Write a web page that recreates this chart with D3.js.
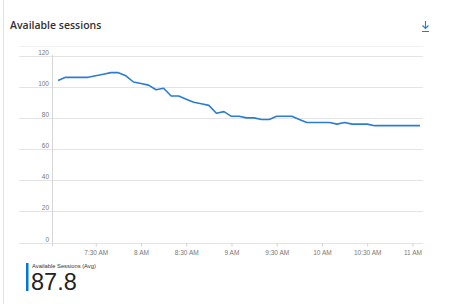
<!DOCTYPE html>
<html>
<head>
<meta charset="utf-8">
<script src="https://cdn.jsdelivr.net/npm/d3@7"></script>
<style>
  body { margin: 0; background: #fff; }
  svg { display: block; font-family: "Liberation Sans", Arial, sans-serif; }
</style>
</head>
<body>
<div id="chart"></div>
<script>
// Available sessions, sampled every 5 minutes from 7:05 AM to 11:05 AM
var startTime = "07:05";
var stepMinutes = 5;
var sessions = [104, 106, 106, 106, 106, 107, 108, 109, 109, 107, 103, 102, 101, 98, 99,
    94, 94, 92, 90, 89, 88, 83, 84, 81, 81, 80, 80, 79, 79, 81, 81, 81, 79, 77, 77,
    77, 77, 76, 77, 76, 76, 76, 75, 75, 75, 75, 75, 75, 75];
var yTicks = [0, 20, 40, 60, 80, 100, 120];
var xTicks = ["07:30", "08:00", "08:30", "09:00", "09:30", "10:00", "10:30", "11:00"];
var xDomain = ["07:01", "11:07"];

var width = 449;
var height = 304;

var parse = d3.timeParse("%H:%M");
var t0 = parse(startTime);
var data = sessions.map(function (v, i) {
    return { t: d3.timeMinute.offset(t0, i * stepMinutes), v: v };
});

var svg = d3.select("#chart")
    .append("svg")
    .attr("width", width)
    .attr("height", height);

// left border of the tile
svg.append("line")
    .attr("x1", 3.5).attr("x2", 3.5)
    .attr("y1", 0).attr("y2", height)
    .style("stroke", "#e3e3e3");

// title
svg.append("text")
    .attr("x", 10)
    .attr("y", 29)
    .style("font-family", "'Open Sans', sans-serif")
    .style("font-size", "10.5px")
    .style("font-weight", 600)
    .style("fill", "#323130")
    .text("Available sessions");

// download icon
var icon = svg.append("g")
    .attr("transform", "translate(425,21)");
icon.append("path")
    .attr("d", "M0.5,0 V7.5 M-2.5,4.5 L0.5,7.5 L3.5,4.5 M-3,10.5 H4")
    .style("fill", "none")
    .style("stroke", "#1a7fd6")
    .style("stroke-width", 1.1);

var x = d3.scaleTime()
    .domain(xDomain.map(parse))
    .range([52, 423]);

var y = d3.scaleLinear()
    .domain([0, 120])
    .range([242.6, 55.5]);

// faint frame line above the plot
svg.append("line")
    .attr("x1", 19).attr("x2", 423)
    .attr("y1", 46.5).attr("y2", 46.5)
    .style("stroke", "#f1f1f1");

// horizontal grid
svg.selectAll(".grid")
    .data(yTicks)
    .enter()
    .append("line")
    .attr("class", "grid")
    .attr("x1", 19).attr("x2", 423)
    .attr("y1", function (d) { return Math.round(y(d)) + 0.5; })
    .attr("y2", function (d) { return Math.round(y(d)) + 0.5; })
    .style("stroke", "#e4e4e4");

// y labels sit above their grid line
svg.selectAll(".ylab")
    .data(yTicks)
    .enter()
    .append("text")
    .attr("class", "ylab")
    .attr("x", 49)
    .attr("y", function (d) { return Math.round(y(d)) - 1.5; })
    .attr("text-anchor", "end")
    .style("font-size", "6.5px")
    .style("fill", "#777")
    .text(function (d) { return d; });

// y axis line
svg.append("line")
    .attr("x1", 52.5).attr("x2", 52.5)
    .attr("y1", 55).attr("y2", 246)
    .style("stroke", "#d6d6d6");

// x axis
var fmt = function (d) {
    var s = d3.timeFormat("%-I:%M %p")(d);
    return s.replace(":00", "");
};
var xAxis = d3.axisBottom(x)
    .tickValues(xTicks.map(parse))
    .tickFormat(fmt)
    .tickSize(3)
    .tickPadding(4);

var gx = svg.append("g")
    .attr("transform", "translate(0," + (Math.round(y(0)) + 0.5) + ")")
    .call(xAxis);
gx.select(".domain").remove();
gx.selectAll(".tick line").style("stroke", "#d0d0d0");
gx.selectAll(".tick text")
    .style("font-family", "'Liberation Sans', sans-serif")
    .style("font-size", "6.5px")
    .style("fill", "#777");

// the series line
var line = d3.line()
    .x(function (d) { return x(d.t); })
    .y(function (d) { return y(d.v); });

svg.append("path")
    .datum(data)
    .attr("d", line)
    .style("fill", "none")
    .style("stroke", "#2b7cd3")
    .style("stroke-width", 1.6)
    .style("stroke-linejoin", "round");

// summary block
svg.append("rect")
    .attr("x", 26)
    .attr("y", 263)
    .attr("width", 2.5)
    .attr("height", 28)
    .style("fill", "#0078d4");

svg.append("text")
    .attr("x", 32)
    .attr("y", 268)
    .style("font-size", "5.8px")
    .style("fill", "#333")
    .text("Available Sessions (Avg)");

svg.append("text")
    .attr("x", 31)
    .attr("y", 290)
    .style("font-size", "23.5px")
    .style("fill", "#222")
    .text(d3.format(".1f")(d3.mean(sessions)));
</script>
</body>
</html>
